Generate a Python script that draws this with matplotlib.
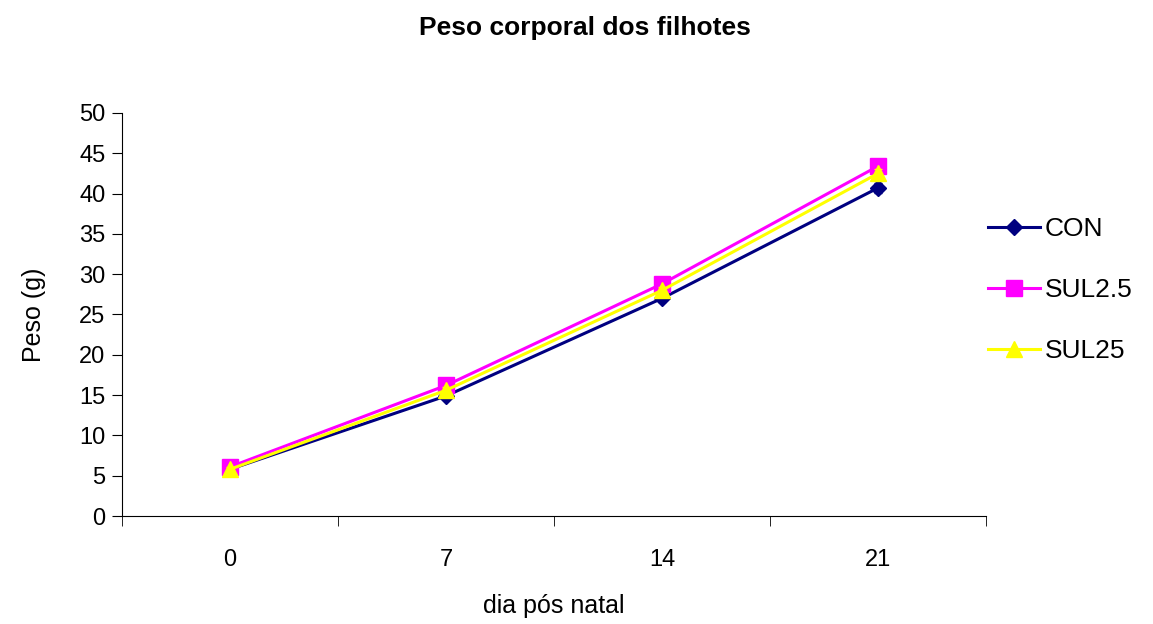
import matplotlib.pyplot as plt

plt.rcParams['font.family'] = ['Liberation Sans', 'DejaVu Sans']

dias = ['0', '7', '14', '21']
con = [5.8, 14.9, 27.0, 40.7]
sul2_5 = [6.1, 16.2, 28.8, 43.4]
sul25 = [5.8, 15.6, 28.0, 42.5]
err_con = [0.3, 0.4, 0.4, 0.6]
err_sul2_5 = [0.3, 0.4, 0.4, 0.6]
err_sul25 = [0.3, 0.4, 0.4, 0.6]

fig = plt.figure(figsize=(11.53, 6.24), dpi=100)
ax = fig.add_axes([0.1058, 0.173, 0.7494, 0.646])

x = range(len(dias))
series = [
    (con, err_con, '#000080', 'D', 8, 'CON'),
    (sul2_5, err_sul2_5, '#FF00FF', 's', 11, 'SUL2.5'),
    (sul25, err_sul25, '#FFFF00', '^', 11, 'SUL25'),
]
for y, e, c, m, ms, lab in series:
    ax.errorbar(x, y, yerr=e, fmt='none', ecolor=c, elinewidth=1.5, capsize=3)
    ax.plot(x, y, color=c, marker=m, ms=ms, lw=2.2, label=lab)

ax.set_xlim(-0.5, 3.5)
ax.set_ylim(0, 50)
ax.set_yticks(range(0, 51, 5))
ax.set_xticks(list(x))
ax.set_xticklabels(dias)
ax.set_xticks([-0.5, 0.5, 1.5, 2.5, 3.5], minor=True)
ax.tick_params(axis='x', which='major', length=0, pad=24, labelsize=17)
ax.tick_params(axis='x', which='minor', length=7, direction='out')
ax.tick_params(axis='y', length=7, direction='out', labelsize=17, pad=5)
ax.spines['top'].set_visible(False)
ax.spines['right'].set_visible(False)

ax.set_xlabel('dia pós natal', fontsize=18, labelpad=16)
ax.set_ylabel('Peso (g)', fontsize=18, labelpad=24)
fig.suptitle('Peso corporal dos filhotes', fontsize=19, fontweight='bold', x=0.507, y=0.975)

fig.legend(loc='center left', bbox_to_anchor=(0.836, 0.535), frameon=False,
           fontsize=19, labelspacing=1.4, handlelength=2.0, handletextpad=0.15)

fig.savefig('out.png', dpi=100)
